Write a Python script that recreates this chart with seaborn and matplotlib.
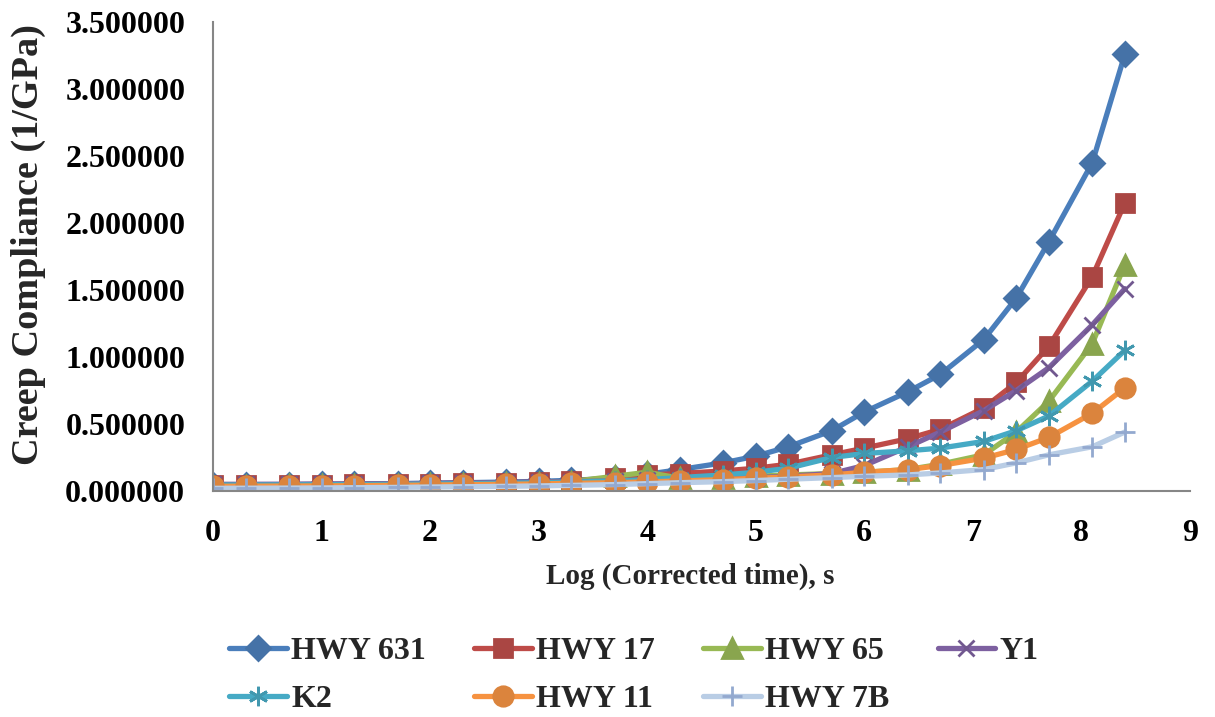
import matplotlib
matplotlib.use("Agg")
import matplotlib.pyplot as plt
import seaborn as sns
import numpy as np
from matplotlib.ticker import FormatStrFormatter, MultipleLocator

# ---------------- data ----------------
log_time = [0, 0.3, 0.7, 1.0, 1.3, 1.7, 2.0, 2.3, 2.7, 3.0, 3.3, 3.7, 4.0, 4.3,
            4.7, 5.0, 5.3, 5.7, 6.0, 6.4, 6.7, 7.1, 7.4, 7.7, 8.1, 8.4]

hwy_631 = [0.045, 0.046, 0.048, 0.050, 0.052, 0.055, 0.058, 0.062, 0.067, 0.072,
           0.080, 0.095, 0.125, 0.160, 0.210, 0.260, 0.330, 0.450, 0.590, 0.740,
           0.870, 1.130, 1.440, 1.860, 2.450, 3.260]
hwy_17 = [0.045, 0.046, 0.047, 0.048, 0.050, 0.052, 0.055, 0.058, 0.062, 0.066,
          0.072, 0.100, 0.120, 0.130, 0.150, 0.170, 0.200, 0.270, 0.320, 0.390,
          0.460, 0.620, 0.810, 1.080, 1.600, 2.150]
hwy_65 = [0.040, 0.041, 0.042, 0.043, 0.045, 0.047, 0.050, 0.053, 0.057, 0.062,
          0.070, 0.110, 0.140, 0.095, 0.100, 0.110, 0.120, 0.130, 0.140, 0.160,
          0.200, 0.270, 0.440, 0.670, 1.100, 1.690]
y1 = [0.050, 0.050, 0.051, 0.052, 0.053, 0.055, 0.057, 0.060, 0.063, 0.066,
      0.070, 0.075, 0.080, 0.085, 0.090, 0.100, 0.110, 0.130, 0.190, 0.330,
      0.440, 0.600, 0.750, 0.920, 1.240, 1.510]
k2 = [0.045, 0.045, 0.046, 0.047, 0.048, 0.050, 0.052, 0.055, 0.058, 0.062,
      0.066, 0.075, 0.085, 0.100, 0.120, 0.140, 0.170, 0.250, 0.280, 0.300,
      0.320, 0.370, 0.450, 0.560, 0.820, 1.050]
hwy_11 = [0.035, 0.036, 0.037, 0.038, 0.040, 0.042, 0.044, 0.047, 0.050, 0.053,
          0.057, 0.062, 0.068, 0.075, 0.085, 0.095, 0.105, 0.120, 0.140, 0.160,
          0.190, 0.245, 0.310, 0.400, 0.580, 0.770]
hwy_7b = [0.020, 0.021, 0.022, 0.023, 0.025, 0.027, 0.030, 0.032, 0.035, 0.038,
          0.042, 0.048, 0.055, 0.062, 0.070, 0.078, 0.088, 0.100, 0.110, 0.120,
          0.135, 0.160, 0.210, 0.270, 0.330, 0.440]

series_names = ["HWY 631", "HWY 17", "HWY 65", "Y1", "K2", "HWY 11", "HWY 7B"]
series_values = [hwy_631, hwy_17, hwy_65, y1, k2, hwy_11, hwy_7b]
x_ticks = [0, 1, 2, 3, 4, 5, 6, 7, 8, 9]

# ---------------- style ----------------
sns.set_style("white")
plt.rcParams["font.family"] = ["Liberation Serif", "DejaVu Serif"]
plt.rcParams["font.weight"] = "bold"
plt.rcParams["axes.labelweight"] = "bold"

line_colors = ["#4A7EBB", "#BE4B48", "#98B954", "#7D60A0", "#46AAC5", "#F69240", "#B9CDE5"]
marker_colors = ["#4572A7", "#AA4643", "#89A54E", "#71588F", "#4198AF", "#DB843D", "#93A9CF"]
markers = ["D", "s", "^", "x", (6, 2, 0), "o", "+"]
msizes = [12, 13, 14, 12, 14, 14, 15]

fig = plt.figure(figsize=(12.15, 7.17), dpi=100)
ax = fig.add_axes([213 / 1215, 1 - 491 / 717, (1190 - 213) / 1215, (491 - 22) / 717])

handles = []
for name, vals, lc, mc, mk, ms in zip(series_names, series_values, line_colors,
                                      marker_colors, markers, msizes):
    sns.lineplot(x=log_time, y=vals, ax=ax, color=lc, linewidth=3.8,
                 marker=mk, markersize=ms, markerfacecolor=mc, markeredgecolor=mc,
                 markeredgewidth=2.0, label=name, legend=False, sort=False)
    handles.append(ax.lines[-1])

ax.set_xlim(0, 9)
ax.set_ylim(0, 3.5)
ax.set_xticks(x_ticks)
ax.yaxis.set_major_locator(MultipleLocator(0.5))
ax.yaxis.set_major_formatter(FormatStrFormatter("%.6f"))

for side in ["top", "right"]:
    ax.spines[side].set_visible(False)
for side in ["left", "bottom"]:
    ax.spines[side].set_color("#868686")
    ax.spines[side].set_linewidth(1.5)

ax.tick_params(axis="both", which="major", direction="out", length=6, width=1.5,
               color="#868686", labelsize=23, labelcolor="black")
ax.tick_params(axis="x", pad=14)
ax.tick_params(axis="y", pad=14)
for lab in ax.get_xticklabels() + ax.get_yticklabels():
    lab.set_fontweight("bold")

ax.set_xlabel("Log (Corrected time), s", fontsize=21, fontweight="bold")
ax.set_ylabel("Creep Compliance (1/GPa)", fontsize=27.5, fontweight="bold")
ax.xaxis.set_label_coords((690 - 213) / 977, -(563 - 491) / 469)
ax.yaxis.set_label_coords(-(213 - 46) / 977, (491 - 245) / 469)
ax.xaxis.label.set_va("top")

order = [0, 4, 1, 5, 2, 6, 3]
leg = fig.legend([handles[i] for i in order], [series_names[i] for i in order],
                 ncol=4, loc="upper center", bbox_to_anchor=(634 / 1215, 1 - 637 / 717),
                 frameon=False, fontsize=23, handlelength=1.8, handletextpad=0.15,
                 columnspacing=1.5, labelspacing=0.58, borderaxespad=0, borderpad=0)
for t in leg.get_texts():
    t.set_fontweight("bold")

fig.savefig("out.png", dpi=100)
